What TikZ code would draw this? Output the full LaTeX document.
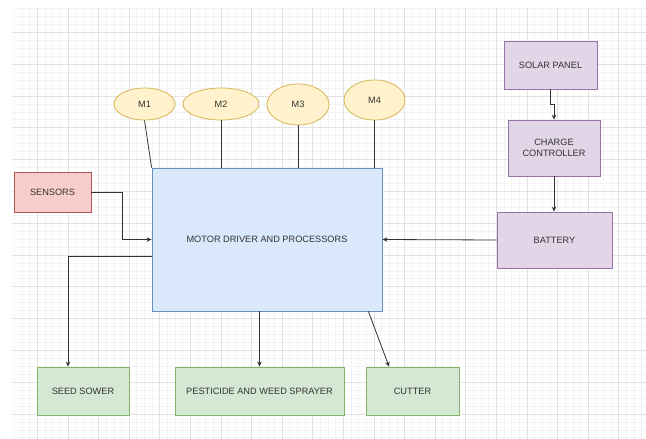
\documentclass[tikz,border=0pt]{standalone}
\usepackage{fontspec}
\setmainfont{Liberation Sans}
\usetikzlibrary{positioning}
\usetikzlibrary{arrows.meta}
\usetikzlibrary{shapes}
\definecolor{txt}{RGB}{51,51,51}
\definecolor{wire}{RGB}{51,51,51}
\definecolor{blueF}{HTML}{DAE8FC}
\definecolor{blueD}{HTML}{6C8EBF}
\definecolor{yellowF}{HTML}{FFF2CC}
\definecolor{yellowD}{HTML}{D6B656}
\definecolor{redF}{HTML}{F8CECC}
\definecolor{redD}{HTML}{B85450}
\definecolor{greenF}{HTML}{D5E8D4}
\definecolor{greenD}{HTML}{82B366}
\definecolor{purpleF}{HTML}{E1D5E7}
\definecolor{purpleD}{HTML}{9673A6}
\definecolor{gridminor}{RGB}{243,243,243}
\definecolor{gridmajor}{RGB}{226,226,226}

\begin{document}
\begin{tikzpicture}[x=1pt, y=-1pt,
    box/.style={draw, line width=0.8pt, rectangle, inner sep=0pt, align=center,
        text=txt, font=\fontsize{9.2}{11}\selectfont},
    motor/.style={ellipse, draw=yellowD, fill=yellowF, line width=0.8pt, inner sep=0pt,
        text=txt, font=\fontsize{9.2}{11}\selectfont},
    link/.style={draw=wire, line width=0.8pt},
    arr/.style={link, -{Stealth[length=5pt, width=4.5pt]}}]
    % Background and grid
    \useasboundingbox (0,0) rectangle (646,439);
    \fill[white] (0,0) rectangle (646,439);
    \begin{scope}[shift={(37.3,32.3)}]
        \draw[gridminor, line width=0.6pt, xstep=7.65pt, ystep=7.95pt] (-25.3,-24.3) grid (608.7,406.7);
        \draw[gridmajor, line width=0.6pt, xstep=30.6pt, ystep=31.8pt] (-25.3,-24.3) grid (608.7,406.7);
    \end{scope}

    % Processor
    \node[box, draw=blueD, fill=blueF, minimum width=230, minimum height=143] (proc) at (267,239.5) {MOTOR DRIVER AND PROCESSORS};

    % Motors
    \node[motor, minimum width=61, minimum height=32] (m1) at (144.5,104) {M1};
    \node[motor, minimum width=76, minimum height=32] (m2) at (221,104) {M2};
    \node[motor, minimum width=62, minimum height=41] (m3) at (298,104.5) {M3};
    \node[motor, minimum width=61, minimum height=40] (m4) at (374.5,100) {M4};

    % Inputs
    \node[box, draw=redD, fill=redF, minimum width=77, minimum height=40] (sensors) at (52.5,192) {SENSORS};

    % Power
    \node[box, draw=purpleD, fill=purpleF, minimum width=93, minimum height=48] (solar) at (550.5,65) {SOLAR PANEL};
    \node[box, draw=purpleD, fill=purpleF, minimum width=92, minimum height=56] (charge) at (554,148) {CHARGE\\CONTROLLER};
    \node[box, draw=purpleD, fill=purpleF, minimum width=115, minimum height=56] (battery) at (554.5,240) {BATTERY};

    % Outputs
    \node[box, draw=greenD, fill=greenF, minimum width=92, minimum height=48] (sower) at (83,391) {SEED SOWER};
    \node[box, draw=greenD, fill=greenF, minimum width=169, minimum height=48] (sprayer) at (259.5,391) {PESTICIDE AND WEED SPRAYER};
    \node[box, draw=greenD, fill=greenF, minimum width=93, minimum height=48] (cutter) at (412.5,391) {CUTTER};

    % Motor links
    \draw[link] (m1.south) -- (proc.north west);
    \draw[link] (m2.south) -- (m2.south |- proc.north);
    \draw[link] (m3.south) -- (m3.south |- proc.north);
    \draw[link] (m4.south) -- (m4.south |- proc.north);

    % Arrows
    \draw[arr] (sensors.east) -- ++(30.5,0) |- (proc.west);
    \draw[arr] (solar.south) -- ++(0,15) -| (charge.north);
    \draw[arr] (charge.south) -- (charge.south |- battery.north);
    \draw[arr] (battery.west) -- (proc.east);
    \draw[arr] ([yshift=-16.5pt]proc.west) -| ([xshift=-15pt]sower.north);
    \draw[arr] (sprayer.north |- proc.south) -- (sprayer.north);
    \draw[arr] ([xshift=-14pt]proc.south east) -- ([xshift=-23.5pt]cutter.north);
\end{tikzpicture}
\end{document}
